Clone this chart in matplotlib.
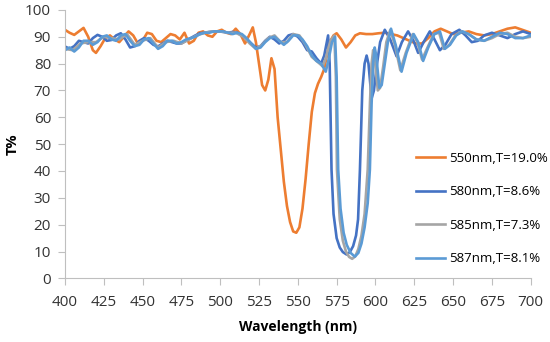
import matplotlib
matplotlib.use("Agg")
import matplotlib.pyplot as plt

# 550 nm design
wl_550 = [400, 403, 406, 409, 412, 415, 418, 420, 423, 426, 429, 432, 435, 438, 441, 444, 447, 450,
          453, 456, 459, 462, 465, 468, 471, 474, 477, 480, 483, 486, 489, 492, 495, 498, 501, 504,
          507, 510, 513, 516, 519, 521, 523, 525, 527, 529, 531, 533, 535, 537, 539, 541, 543, 545,
          547, 549, 551, 553, 555, 557, 559, 561, 563, 565, 567, 569, 571, 573, 575, 578, 581, 584,
          587, 590, 594, 598, 602, 606, 610, 614, 618, 622, 626, 630, 634, 638, 642, 646, 650, 655,
          660, 665, 670, 675, 680, 685, 690, 695, 700]
t_550 = [92.6, 91.5, 90.7, 92.0, 93.3, 90.0, 85.0, 84.0, 86.5, 89.5, 90.5, 89.0, 88.0, 90.0, 92.0,
         90.5, 87.5, 88.5, 91.5, 91.0, 88.5, 88.0, 89.5, 91.0, 90.5, 89.0, 91.5, 87.5, 88.5, 91.5,
         92.0, 90.5, 90.0, 92.0, 92.6, 91.5, 91.0, 93.0, 91.0, 87.5, 91.0, 93.5, 88.0, 80.0, 72.0,
         70.0, 74.0, 82.0, 78.0, 60.0, 48.0, 36.0, 27.0, 21.0, 17.5, 17.0, 19.0, 26.0, 37.0, 50.0,
         62.0, 69.0, 72.5, 75.0, 78.0, 84.0, 88.5, 90.5, 91.3, 89.0, 86.0, 88.0, 90.5, 91.3, 91.0,
         91.0, 91.3, 91.5, 91.0, 90.5, 89.5, 88.5, 87.5, 87.5, 89.5, 92.0, 93.0, 92.0, 91.0, 91.5,
         92.0, 91.0, 90.5, 91.0, 92.0, 93.0, 93.5, 92.5, 91.5]

# 580 nm design
wl_580 = [400, 403, 406, 409, 412, 415, 418, 421, 424, 427, 430, 433, 436, 439, 442, 445, 448, 451,
          454, 457, 460, 463, 466, 469, 472, 475, 478, 481, 484, 487, 490, 493, 496, 499, 502, 505,
          508, 511, 514, 517, 520, 523, 526, 529, 532, 535, 538, 541, 544, 547, 550, 553, 556, 559,
          562, 565, 567, 569.5, 570.5, 571.7, 573, 575, 577, 579, 581.4, 583.5, 585.6, 587.5, 588.8,
          590, 591.5, 593, 594.3, 595.5, 597.5, 599, 601, 603, 606, 609.5, 613.6, 617, 621, 624.5,
          627.5, 631, 635, 638, 641.5, 645, 649, 654, 658, 662, 666, 670, 675, 680, 685, 690, 695, 700]
t_580 = [86.4, 85.5, 86.5, 88.5, 88.0, 87.5, 89.5, 90.7, 90.0, 88.5, 88.8, 90.5, 91.3, 89.0, 86.0,
         86.5, 88.5, 89.5, 88.5, 87.0, 86.4, 87.5, 88.5, 88.0, 87.5, 87.5, 88.5, 89.5, 90.5, 91.3,
         91.5, 91.8, 92.0, 92.0, 91.8, 91.5, 91.8, 91.5, 90.5, 89.0, 87.5, 86.0, 86.5, 88.5, 90.0,
         89.0, 87.5, 88.5, 90.5, 91.0, 90.0, 88.0, 85.0, 84.5, 82.0, 80.0, 83.0, 90.5, 80.0, 40.5,
         24.0, 15.0, 11.5, 9.8, 8.9, 9.8, 12.0, 16.0, 22.0, 40.5, 70.0, 80.0, 83.0, 80.0, 67.0,
         70.0, 80.0, 88.0, 92.6, 89.0, 82.7, 88.0, 92.0, 88.5, 84.0, 88.0, 92.0, 89.0, 85.0, 87.0,
         91.0, 92.6, 90.5, 88.0, 88.5, 90.5, 91.5, 90.5, 89.5, 91.0, 92.0, 91.0]

# 585 nm design
wl_585 = [400, 405, 410, 415, 420, 425, 430, 435, 440, 445, 450, 455, 460, 465, 470, 475, 480, 485,
          490, 495, 500, 505, 510, 515, 519, 523, 527, 531, 535, 539, 543, 547, 551, 555, 559, 563,
          566, 568, 571, 573.5, 574.5, 575.2, 577, 579, 581, 583, 585, 587, 589, 591, 593, 595,
          596.5, 597.5, 598.5, 599.5, 601.5, 603, 605, 607, 609.5, 612.5, 616, 619.5, 624, 627, 630,
          633.5, 637.5, 641, 644, 647.5, 651.5, 655.5, 660, 665, 670, 675, 680, 685, 690, 695, 700]
t_585 = [85.5, 85.0, 87.5, 88.0, 88.0, 90.0, 89.5, 89.0, 91.0, 87.0, 88.5, 89.5, 86.0, 88.0, 88.5,
         87.5, 89.0, 90.5, 91.5, 92.0, 92.0, 91.5, 91.5, 90.0, 87.5, 85.5, 87.0, 89.5, 90.5, 88.0,
         88.0, 91.0, 90.5, 87.0, 82.5, 80.5, 79.0, 82.0, 88.5, 90.5, 75.0, 40.5, 22.0, 14.0, 10.0,
         8.0, 7.3, 8.2, 11.0, 16.0, 24.0, 40.5, 66.0, 80.0, 85.0, 82.0, 70.0, 71.0, 79.0, 88.0,
         92.5, 87.0, 77.5, 84.0, 91.0, 88.0, 81.5, 86.0, 91.0, 91.5, 85.5, 87.0, 90.5, 92.0, 91.0,
         89.0, 88.5, 89.5, 91.0, 91.5, 90.0, 89.5, 90.0]

# 587 nm design
wl_587 = [400, 403, 406, 409, 412, 415, 418, 421, 424, 427, 430, 433, 436, 439, 442, 445, 448, 451,
          454, 457, 460, 463, 466, 469, 472, 475, 478, 481, 484, 487, 490, 493, 496, 499, 502, 505,
          508, 511, 514, 517, 520, 523, 526, 529, 532, 535, 538, 541, 544, 547, 550, 553, 556, 559,
          562, 565, 568, 570, 572, 574, 575, 576, 577.5, 579.5, 581.5, 584, 586.7, 589, 591, 593,
          595, 596.4, 597.5, 598.5, 599.5, 600.5, 602.5, 604, 606, 608, 610, 613, 616.8, 620, 624.6,
          627.5, 630.7, 634, 638, 641.5, 644.7, 648, 652, 656, 660, 665, 670, 675, 680, 685, 690,
          695, 700]
t_587 = [85.0, 86.0, 84.5, 86.0, 88.5, 88.5, 87.0, 88.0, 90.0, 90.5, 89.0, 88.5, 90.5, 91.0, 88.5,
         86.5, 87.0, 89.0, 89.5, 87.5, 85.5, 86.5, 88.5, 88.5, 87.5, 88.0, 89.0, 89.5, 90.0, 91.0,
         91.5, 91.5, 92.0, 92.0, 92.0, 91.5, 91.0, 91.5, 91.0, 89.5, 87.5, 85.5, 86.0, 88.0, 89.5,
         90.0, 88.5, 87.0, 88.5, 90.5, 90.5, 89.0, 86.5, 83.0, 81.0, 80.0, 77.0, 82.0, 88.0, 90.0,
         75.0, 40.5, 26.0, 17.0, 12.5, 9.5, 8.1, 9.5, 13.0, 19.0, 28.0, 40.5, 65.0, 80.0, 86.0,
         83.0, 71.0, 72.0, 80.0, 88.0, 93.0, 87.0, 77.0, 84.0, 91.0, 88.0, 81.0, 86.0, 91.0, 92.0,
         85.5, 87.0, 90.5, 92.0, 91.0, 89.0, 88.5, 90.0, 91.5, 91.0, 89.5, 89.5, 90.5]

labels = ["550nm,T=19.0%", "580nm,T=8.6%", "585nm,T=7.3%", "587nm,T=8.1%"]
colors = ["#ED7D31", "#4472C4", "#A5A5A5", "#5B9BD5"]

plt.rcParams['font.family'] = ['Open Sans', 'DejaVu Sans']

fig = plt.figure(figsize=(5.5, 3.42), dpi=100)
ax = fig.add_axes([0.118, 0.186, 0.847, 0.785])

series = [(wl_550, t_550), (wl_580, t_580), (wl_585, t_585), (wl_587, t_587)]
for (x, y), lab, c in zip(series, labels, colors):
    ax.plot(x, y, color=c, lw=1.9, label=lab)

ax.set_xlim(400, 700)
ax.set_ylim(0, 100)
ax.set_xticks(range(400, 701, 25))
ax.set_yticks(range(0, 101, 10))
ax.tick_params(labelsize=11, colors="#bfbfbf", labelcolor="#333333", length=5, width=0.8)
ax.tick_params(axis="y", pad=5)
ax.tick_params(axis="x", pad=7)
for s in ["top", "right"]:
    ax.spines[s].set_visible(False)
for s in ["left", "bottom"]:
    ax.spines[s].set_color("#bfbfbf")
ax.set_xlabel("Wavelength (nm)", fontsize=10, fontweight="bold", labelpad=7)
ax.set_ylabel("T%", fontsize=10.5, fontweight="bold", labelpad=4)

fig.legend(loc="lower left", bbox_to_anchor=(0.745, 0.205), frameon=False, fontsize=9.5,
           labelspacing=1.55, handlelength=2.2, handletextpad=0.25, borderpad=0)

fig.savefig("out.png", dpi=100)
